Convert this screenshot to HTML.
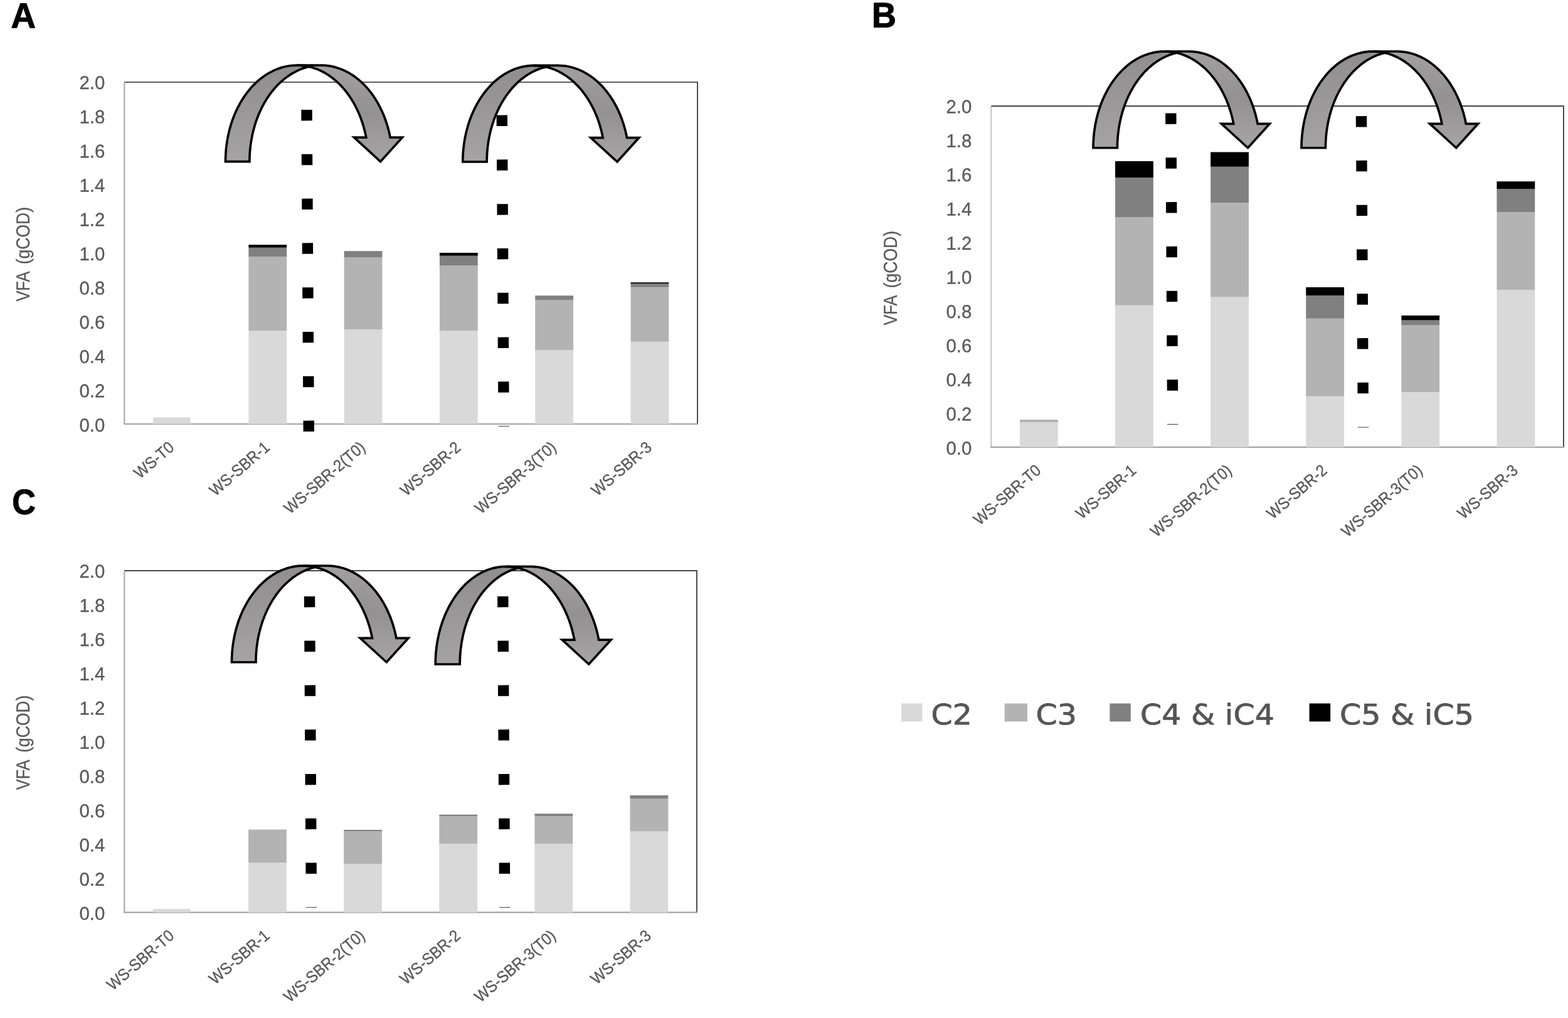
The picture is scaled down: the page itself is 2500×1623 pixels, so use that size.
<!DOCTYPE html>
<html lang="en">
<head>
<meta charset="utf-8">
<title>VFA (gCOD)</title>
<style>
html,body{margin:0;padding:0;background:#fff;}
body{width:2500px;height:1623px;overflow:hidden;}
svg{display:block;}
text{font-family:"Liberation Sans",sans-serif;}
.tk{font-size:29.7px;fill:#595959;stroke:#595959;stroke-width:0.3px;}
.yt{font-size:30.2px;fill:#595959;stroke:#595959;stroke-width:0.3px;}
.xl{font-size:26px;fill:#595959;stroke:#595959;stroke-width:0.35px;}
.pl{font-size:56.5px;font-weight:bold;fill:#000;stroke:#000;stroke-width:1px;stroke-linejoin:miter;}
.lg{font-family:"DejaVu Sans","Liberation Sans",sans-serif;font-size:45.2px;fill:#555;stroke:#555;stroke-width:0.8px;stroke-linejoin:round;}
</style>
</head>
<body>
<svg width="2500" height="1623" viewBox="0 0 2500 1623">
<defs>
<linearGradient id="a1b" gradientUnits="userSpaceOnUse" x1="0" y1="104.1" x2="0" y2="257.6"><stop offset="0" stop-color="#8f8d8e"/><stop offset="1" stop-color="#a5a3a4"/></linearGradient><linearGradient id="a1f" gradientUnits="userSpaceOnUse" x1="0" y1="104.1" x2="0" y2="257.6"><stop offset="0" stop-color="#a19fa0"/><stop offset="0.5" stop-color="#939192"/><stop offset="1" stop-color="#a7a5a6"/></linearGradient>
<linearGradient id="a2b" gradientUnits="userSpaceOnUse" x1="0" y1="104.45" x2="0" y2="258"><stop offset="0" stop-color="#8f8d8e"/><stop offset="1" stop-color="#a5a3a4"/></linearGradient><linearGradient id="a2f" gradientUnits="userSpaceOnUse" x1="0" y1="104.45" x2="0" y2="258"><stop offset="0" stop-color="#a19fa0"/><stop offset="0.5" stop-color="#939192"/><stop offset="1" stop-color="#a7a5a6"/></linearGradient>
<linearGradient id="b1b" gradientUnits="userSpaceOnUse" x1="0" y1="82" x2="0" y2="235.75"><stop offset="0" stop-color="#8f8d8e"/><stop offset="1" stop-color="#a5a3a4"/></linearGradient><linearGradient id="b1f" gradientUnits="userSpaceOnUse" x1="0" y1="82" x2="0" y2="235.75"><stop offset="0" stop-color="#a19fa0"/><stop offset="0.5" stop-color="#939192"/><stop offset="1" stop-color="#a7a5a6"/></linearGradient>
<linearGradient id="b2b" gradientUnits="userSpaceOnUse" x1="0" y1="82" x2="0" y2="235.75"><stop offset="0" stop-color="#8f8d8e"/><stop offset="1" stop-color="#a5a3a4"/></linearGradient><linearGradient id="b2f" gradientUnits="userSpaceOnUse" x1="0" y1="82" x2="0" y2="235.75"><stop offset="0" stop-color="#a19fa0"/><stop offset="0.5" stop-color="#939192"/><stop offset="1" stop-color="#a7a5a6"/></linearGradient>
<linearGradient id="c1b" gradientUnits="userSpaceOnUse" x1="0" y1="902" x2="0" y2="1055.75"><stop offset="0" stop-color="#8f8d8e"/><stop offset="1" stop-color="#a5a3a4"/></linearGradient><linearGradient id="c1f" gradientUnits="userSpaceOnUse" x1="0" y1="902" x2="0" y2="1055.75"><stop offset="0" stop-color="#a19fa0"/><stop offset="0.5" stop-color="#939192"/><stop offset="1" stop-color="#a7a5a6"/></linearGradient>
<linearGradient id="c2b" gradientUnits="userSpaceOnUse" x1="0" y1="903.25" x2="0" y2="1059"><stop offset="0" stop-color="#8f8d8e"/><stop offset="1" stop-color="#a5a3a4"/></linearGradient><linearGradient id="c2f" gradientUnits="userSpaceOnUse" x1="0" y1="903.25" x2="0" y2="1059"><stop offset="0" stop-color="#a19fa0"/><stop offset="0.5" stop-color="#939192"/><stop offset="1" stop-color="#a7a5a6"/></linearGradient>
</defs>
<rect x="0" y="0" width="2500" height="1623" fill="#fff"/>
<path d="M198.3 131 H1112.1 V676" fill="none" stroke="#2e2e2e" stroke-width="1.7"/>
<path d="M198.3 131.9 V677.1" fill="none" stroke="#adadad" stroke-width="2.2"/>
<path d="M197.2 676 H1113" fill="none" stroke="#a3a3a3" stroke-width="2.2"/>
<rect x="244.05" y="665.5" width="59.6" height="10.5" fill="#d9d9d9"/>
<rect x="396.35" y="527.25" width="60.8" height="148.75" fill="#d9d9d9"/>
<rect x="396.35" y="409" width="60.8" height="118.25" fill="#b3b3b3"/>
<rect x="396.35" y="394.75" width="60.8" height="14.25" fill="#808080"/>
<rect x="396.35" y="390.25" width="60.8" height="4.5" fill="#000000"/>
<rect x="548.65" y="525.25" width="60.8" height="150.75" fill="#d9d9d9"/>
<rect x="548.65" y="410.5" width="60.8" height="114.75" fill="#b3b3b3"/>
<rect x="548.65" y="400.25" width="60.8" height="10.25" fill="#808080"/>
<rect x="700.95" y="527.25" width="60.8" height="148.75" fill="#d9d9d9"/>
<rect x="700.95" y="423.5" width="60.8" height="103.75" fill="#b3b3b3"/>
<rect x="700.95" y="407.75" width="60.8" height="15.75" fill="#808080"/>
<rect x="700.95" y="403" width="60.8" height="4.75" fill="#000000"/>
<rect x="853.25" y="558" width="60.8" height="118" fill="#d9d9d9"/>
<rect x="853.25" y="478.5" width="60.8" height="79.5" fill="#b3b3b3"/>
<rect x="853.25" y="471.25" width="60.8" height="7.25" fill="#808080"/>
<rect x="1005.55" y="544.75" width="60.8" height="131.25" fill="#d9d9d9"/>
<rect x="1005.55" y="457.75" width="60.8" height="87" fill="#b3b3b3"/>
<rect x="1005.55" y="452" width="60.8" height="5.75" fill="#808080"/>
<rect x="1005.55" y="450.25" width="60.8" height="1.75" fill="#000000"/>
<text transform="translate(167.35 687.9) rotate(0.03) scale(0.99 1)" text-anchor="end" class="tk">0.0</text>
<text transform="translate(167.35 633.31) rotate(0.03) scale(0.99 1)" text-anchor="end" class="tk">0.2</text>
<text transform="translate(167.35 578.72) rotate(0.03) scale(0.99 1)" text-anchor="end" class="tk">0.4</text>
<text transform="translate(167.35 524.13) rotate(0.03) scale(0.99 1)" text-anchor="end" class="tk">0.6</text>
<text transform="translate(167.35 469.54) rotate(0.03) scale(0.99 1)" text-anchor="end" class="tk">0.8</text>
<text transform="translate(167.35 414.95) rotate(0.03) scale(0.99 1)" text-anchor="end" class="tk">1.0</text>
<text transform="translate(167.35 360.36) rotate(0.03) scale(0.99 1)" text-anchor="end" class="tk">1.2</text>
<text transform="translate(167.35 305.77) rotate(0.03) scale(0.99 1)" text-anchor="end" class="tk">1.4</text>
<text transform="translate(167.35 251.18) rotate(0.03) scale(0.99 1)" text-anchor="end" class="tk">1.6</text>
<text transform="translate(167.35 196.59) rotate(0.03) scale(0.99 1)" text-anchor="end" class="tk">1.8</text>
<text transform="translate(167.35 142) rotate(0.03) scale(0.99 1)" text-anchor="end" class="tk">2.0</text>
<text transform="translate(47.2 480.6) rotate(-90.03)" class="yt"><tspan x="0" textLength="46.6" lengthAdjust="spacingAndGlyphs">VFA</tspan> <tspan x="59.4" textLength="91.3" lengthAdjust="spacingAndGlyphs">(gCOD)</tspan></text>
<text transform="translate(279.45 715.75) rotate(-40.7) scale(0.92 1)" text-anchor="end" class="xl">WS-T0</text>
<text transform="translate(431.75 715.75) rotate(-40.7) scale(0.92 1)" text-anchor="end" class="xl">WS-SBR-1</text>
<text transform="translate(584.05 715.75) rotate(-40.7) scale(0.92 1)" text-anchor="end" class="xl">WS-SBR-2(T0)</text>
<text transform="translate(736.35 715.75) rotate(-40.7) scale(0.92 1)" text-anchor="end" class="xl">WS-SBR-2</text>
<text transform="translate(888.65 715.75) rotate(-40.7) scale(0.92 1)" text-anchor="end" class="xl">WS-SBR-3(T0)</text>
<text transform="translate(1040.95 715.75) rotate(-40.7) scale(0.92 1)" text-anchor="end" class="xl">WS-SBR-3</text>
<path d="M1580.3 169.2 H2492.9 V712.9" fill="none" stroke="#2e2e2e" stroke-width="1.7"/>
<path d="M1580.3 170.1 V714" fill="none" stroke="#c6c6c6" stroke-width="2.2"/>
<path d="M1579.2 712.9 H2493.8" fill="none" stroke="#a3a3a3" stroke-width="2.2"/>
<rect x="1625.95" y="673" width="60.8" height="39.9" fill="#d9d9d9"/>
<rect x="1625.95" y="669" width="60.8" height="4" fill="#b3b3b3"/>
<rect x="1778.05" y="486.75" width="60.8" height="226.15" fill="#d9d9d9"/>
<rect x="1778.05" y="346.25" width="60.8" height="140.5" fill="#b3b3b3"/>
<rect x="1778.05" y="283.25" width="60.8" height="63" fill="#808080"/>
<rect x="1778.05" y="257" width="60.8" height="26.25" fill="#000000"/>
<rect x="1930.15" y="473.5" width="60.8" height="239.4" fill="#d9d9d9"/>
<rect x="1930.15" y="323.25" width="60.8" height="150.25" fill="#b3b3b3"/>
<rect x="1930.15" y="265.75" width="60.8" height="57.5" fill="#808080"/>
<rect x="1930.15" y="242.5" width="60.8" height="23.25" fill="#000000"/>
<rect x="2082.25" y="631.75" width="60.8" height="81.15" fill="#d9d9d9"/>
<rect x="2082.25" y="507.75" width="60.8" height="124" fill="#b3b3b3"/>
<rect x="2082.25" y="471" width="60.8" height="36.75" fill="#808080"/>
<rect x="2082.25" y="458" width="60.8" height="13" fill="#000000"/>
<rect x="2234.35" y="625.25" width="60.8" height="87.65" fill="#d9d9d9"/>
<rect x="2234.35" y="518.5" width="60.8" height="106.75" fill="#b3b3b3"/>
<rect x="2234.35" y="510.5" width="60.8" height="8" fill="#808080"/>
<rect x="2234.35" y="503" width="60.8" height="7.5" fill="#000000"/>
<rect x="2386.45" y="462.25" width="60.8" height="250.65" fill="#d9d9d9"/>
<rect x="2386.45" y="338" width="60.8" height="124.25" fill="#b3b3b3"/>
<rect x="2386.45" y="301.25" width="60.8" height="36.75" fill="#808080"/>
<rect x="2386.45" y="289.25" width="60.8" height="12" fill="#000000"/>
<text transform="translate(1549.35 724.8) rotate(0.03) scale(0.99 1)" text-anchor="end" class="tk">0.0</text>
<text transform="translate(1549.35 670.34) rotate(0.03) scale(0.99 1)" text-anchor="end" class="tk">0.2</text>
<text transform="translate(1549.35 615.88) rotate(0.03) scale(0.99 1)" text-anchor="end" class="tk">0.4</text>
<text transform="translate(1549.35 561.42) rotate(0.03) scale(0.99 1)" text-anchor="end" class="tk">0.6</text>
<text transform="translate(1549.35 506.96) rotate(0.03) scale(0.99 1)" text-anchor="end" class="tk">0.8</text>
<text transform="translate(1549.35 452.5) rotate(0.03) scale(0.99 1)" text-anchor="end" class="tk">1.0</text>
<text transform="translate(1549.35 398.04) rotate(0.03) scale(0.99 1)" text-anchor="end" class="tk">1.2</text>
<text transform="translate(1549.35 343.58) rotate(0.03) scale(0.99 1)" text-anchor="end" class="tk">1.4</text>
<text transform="translate(1549.35 289.12) rotate(0.03) scale(0.99 1)" text-anchor="end" class="tk">1.6</text>
<text transform="translate(1549.35 234.66) rotate(0.03) scale(0.99 1)" text-anchor="end" class="tk">1.8</text>
<text transform="translate(1549.35 180.2) rotate(0.03) scale(0.99 1)" text-anchor="end" class="tk">2.0</text>
<text transform="translate(1430.2 518.6) rotate(-90.03)" class="yt"><tspan x="0" textLength="46.6" lengthAdjust="spacingAndGlyphs">VFA</tspan> <tspan x="59.4" textLength="91.3" lengthAdjust="spacingAndGlyphs">(gCOD)</tspan></text>
<text transform="translate(1661.35 752.65) rotate(-40.7) scale(0.92 1)" text-anchor="end" class="xl">WS-SBR-T0</text>
<text transform="translate(1813.45 752.65) rotate(-40.7) scale(0.92 1)" text-anchor="end" class="xl">WS-SBR-1</text>
<text transform="translate(1965.55 752.65) rotate(-40.7) scale(0.92 1)" text-anchor="end" class="xl">WS-SBR-2(T0)</text>
<text transform="translate(2117.65 752.65) rotate(-40.7) scale(0.92 1)" text-anchor="end" class="xl">WS-SBR-2</text>
<text transform="translate(2269.75 752.65) rotate(-40.7) scale(0.92 1)" text-anchor="end" class="xl">WS-SBR-3(T0)</text>
<text transform="translate(2421.85 752.65) rotate(-40.7) scale(0.92 1)" text-anchor="end" class="xl">WS-SBR-3</text>
<path d="M198.3 909.9 H1111 V1454.7" fill="none" stroke="#2e2e2e" stroke-width="1.7"/>
<path d="M198.3 910.8 V1455.8" fill="none" stroke="#adadad" stroke-width="2.2"/>
<path d="M197.2 1454.7 H1111.9" fill="none" stroke="#a3a3a3" stroke-width="2.2"/>
<rect x="243.96" y="1449.25" width="59.6" height="5.45" fill="#d9d9d9"/>
<rect x="396.08" y="1375.5" width="60.8" height="79.2" fill="#d9d9d9"/>
<rect x="396.08" y="1322.5" width="60.8" height="53" fill="#b3b3b3"/>
<rect x="548.19" y="1377.5" width="60.8" height="77.2" fill="#d9d9d9"/>
<rect x="548.19" y="1325" width="60.8" height="52.5" fill="#b3b3b3"/>
<rect x="548.19" y="1323" width="60.8" height="2" fill="#808080"/>
<rect x="700.31" y="1345" width="60.8" height="109.7" fill="#d9d9d9"/>
<rect x="700.31" y="1301.25" width="60.8" height="43.75" fill="#b3b3b3"/>
<rect x="700.31" y="1298.75" width="60.8" height="2.5" fill="#808080"/>
<rect x="852.43" y="1345" width="60.8" height="109.7" fill="#d9d9d9"/>
<rect x="852.43" y="1301.25" width="60.8" height="43.75" fill="#b3b3b3"/>
<rect x="852.43" y="1297.25" width="60.8" height="4" fill="#808080"/>
<rect x="1004.54" y="1325.5" width="60.8" height="129.2" fill="#d9d9d9"/>
<rect x="1004.54" y="1273.5" width="60.8" height="52" fill="#b3b3b3"/>
<rect x="1004.54" y="1268" width="60.8" height="5.5" fill="#808080"/>
<text transform="translate(167.35 1466.6) rotate(0.03) scale(0.99 1)" text-anchor="end" class="tk">0.0</text>
<text transform="translate(167.35 1412.03) rotate(0.03) scale(0.99 1)" text-anchor="end" class="tk">0.2</text>
<text transform="translate(167.35 1357.46) rotate(0.03) scale(0.99 1)" text-anchor="end" class="tk">0.4</text>
<text transform="translate(167.35 1302.89) rotate(0.03) scale(0.99 1)" text-anchor="end" class="tk">0.6</text>
<text transform="translate(167.35 1248.32) rotate(0.03) scale(0.99 1)" text-anchor="end" class="tk">0.8</text>
<text transform="translate(167.35 1193.75) rotate(0.03) scale(0.99 1)" text-anchor="end" class="tk">1.0</text>
<text transform="translate(167.35 1139.18) rotate(0.03) scale(0.99 1)" text-anchor="end" class="tk">1.2</text>
<text transform="translate(167.35 1084.61) rotate(0.03) scale(0.99 1)" text-anchor="end" class="tk">1.4</text>
<text transform="translate(167.35 1030.04) rotate(0.03) scale(0.99 1)" text-anchor="end" class="tk">1.6</text>
<text transform="translate(167.35 975.47) rotate(0.03) scale(0.99 1)" text-anchor="end" class="tk">1.8</text>
<text transform="translate(167.35 920.9) rotate(0.03) scale(0.99 1)" text-anchor="end" class="tk">2.0</text>
<text transform="translate(47.2 1259.2) rotate(-90.03)" class="yt"><tspan x="0" textLength="46.6" lengthAdjust="spacingAndGlyphs">VFA</tspan> <tspan x="59.4" textLength="91.3" lengthAdjust="spacingAndGlyphs">(gCOD)</tspan></text>
<text transform="translate(279.36 1494.45) rotate(-40.7) scale(0.92 1)" text-anchor="end" class="xl">WS-SBR-T0</text>
<text transform="translate(431.48 1494.45) rotate(-40.7) scale(0.92 1)" text-anchor="end" class="xl">WS-SBR-1</text>
<text transform="translate(583.59 1494.45) rotate(-40.7) scale(0.92 1)" text-anchor="end" class="xl">WS-SBR-2(T0)</text>
<text transform="translate(735.71 1494.45) rotate(-40.7) scale(0.92 1)" text-anchor="end" class="xl">WS-SBR-2</text>
<text transform="translate(887.83 1494.45) rotate(-40.7) scale(0.92 1)" text-anchor="end" class="xl">WS-SBR-3(T0)</text>
<text transform="translate(1039.94 1494.45) rotate(-40.7) scale(0.92 1)" text-anchor="end" class="xl">WS-SBR-3</text>
<line x1="489" y1="175" x2="492.3" y2="688" stroke="#000" stroke-width="17.4" stroke-dasharray="17.4 53.4"/>
<line x1="800.3" y1="183.6" x2="803.2" y2="679.95" stroke="#000" stroke-width="17.4" stroke-dasharray="17.4 53.4"/>
<line x1="1866.8" y1="180.5" x2="1869.8" y2="676.85" stroke="#000" stroke-width="17.4" stroke-dasharray="17.4 53.4"/>
<line x1="2170.5" y1="185.1" x2="2173.5" y2="681.45" stroke="#000" stroke-width="17.4" stroke-dasharray="17.4 53.4"/>
<line x1="493.5" y1="950.75" x2="496.5" y2="1447.1" stroke="#000" stroke-width="17.4" stroke-dasharray="17.4 53.4"/>
<line x1="801.8" y1="950.75" x2="804.8" y2="1447.1" stroke="#000" stroke-width="17.4" stroke-dasharray="17.4 53.4"/>
<g stroke="#000" stroke-width="3.7" stroke-linejoin="miter" stroke-miterlimit="8"><path d="M359.5 257.6 L359.5 257.6 L359.61 250.93 L359.93 244.26 L360.47 237.63 L361.22 231.03 L362.18 224.48 L363.36 217.99 L364.74 211.58 L366.33 205.25 L368.12 199.03 L370.11 192.91 L372.3 186.92 L374.68 181.06 L377.24 175.35 L379.99 169.79 L382.91 164.4 L386.01 159.18 L389.27 154.16 L392.69 149.32 L396.26 144.69 L399.98 140.28 L403.83 136.08 L407.82 132.12 L411.94 128.39 L416.17 124.91 L420.5 121.68 L424.94 118.71 L429.47 116 L434.09 113.56 L438.77 111.39 L443.53 109.49 L448.34 107.88 L453.2 106.55 L458.09 105.5 L463.02 104.75 L467.96 104.28 L472.92 104.1 L477.87 104.21 L482.82 104.62 L487.75 105.31 L492.66 106.29 L492.66 106.29 L488.73 107.29 L484.84 108.47 L480.97 109.84 L477.15 111.39 L473.37 113.11 L469.63 115.02 L465.95 117.1 L462.32 119.35 L458.76 121.77 L455.26 124.36 L451.83 127.11 L448.47 130.02 L445.19 133.09 L441.99 136.31 L438.88 139.68 L435.86 143.2 L432.93 146.85 L430.1 150.64 L427.36 154.57 L424.74 158.62 L422.21 162.79 L419.8 167.08 L417.51 171.47 L415.32 175.98 L413.26 180.58 L411.32 185.28 L409.5 190.07 L407.8 194.94 L406.24 199.89 L404.8 204.91 L403.5 209.99 L402.32 215.13 L401.29 220.33 L400.38 225.56 L399.62 230.84 L398.99 236.16 L398.5 241.49 L398.15 246.85 L397.94 252.22 L397.88 257.6 Z" fill="url(#a1b)"/><path d="M473.47 104.1 L477.22 104.18 L480.97 104.43 L484.72 104.85 L488.45 105.43 L492.16 106.18 L495.86 107.09 L499.53 108.17 L503.17 109.4 L506.78 110.8 L510.35 112.36 L513.88 114.07 L517.37 115.95 L520.81 117.97 L524.2 120.15 L527.54 122.47 L530.81 124.95 L534.03 127.56 L537.17 130.32 L540.25 133.22 L543.26 136.25 L546.19 139.41 L549.04 142.7 L551.81 146.12 L554.5 149.65 L557.09 153.31 L559.6 157.08 L562.01 160.95 L564.33 164.93 L566.54 169.02 L568.66 173.19 L570.67 177.46 L572.58 181.82 L574.38 186.26 L576.07 190.78 L577.65 195.37 L579.12 200.02 L580.47 204.74 L581.7 209.52 L582.82 214.35 L583.82 219.22 L564.63 219.22 L606.62 257.6 L641.38 219.22 L622.19 219.22 L621.19 214.35 L620.08 209.52 L618.84 204.74 L617.49 200.02 L616.03 195.37 L614.45 190.78 L612.76 186.26 L610.96 181.82 L609.05 177.46 L607.04 173.19 L604.92 169.02 L602.7 164.93 L600.39 160.95 L597.97 157.08 L595.47 153.31 L592.87 149.65 L590.19 146.12 L587.42 142.7 L584.57 139.41 L581.64 136.25 L578.63 133.22 L575.55 130.32 L572.4 127.56 L569.19 124.95 L565.91 122.47 L562.58 120.15 L559.19 117.97 L555.75 115.95 L552.26 114.07 L548.72 112.36 L545.15 110.8 L541.54 109.4 L537.9 108.17 L534.23 107.09 L530.54 106.18 L526.82 105.43 L523.09 104.85 L519.35 104.43 L515.6 104.18 L511.84 104.1 Z" fill="url(#a1f)"/></g>
<g stroke="#000" stroke-width="3.7" stroke-linejoin="miter" stroke-miterlimit="8"><path d="M737.8 258 L737.8 258 L737.91 251.32 L738.23 244.65 L738.77 238.01 L739.52 231.41 L740.48 224.85 L741.65 218.36 L743.03 211.95 L744.61 205.62 L746.4 199.39 L748.38 193.27 L750.56 187.27 L752.93 181.41 L755.49 175.69 L758.22 170.13 L761.14 164.74 L764.22 159.52 L767.47 154.49 L770.88 149.65 L774.44 145.02 L778.15 140.6 L781.99 136.41 L785.97 132.44 L790.07 128.72 L794.28 125.24 L798.61 122 L803.03 119.03 L807.54 116.32 L812.14 113.88 L816.81 111.71 L821.55 109.82 L826.34 108.21 L831.19 106.88 L836.06 105.84 L840.97 105.09 L845.9 104.62 L850.84 104.45 L855.78 104.57 L860.71 104.98 L865.62 105.67 L870.5 106.66 L870.5 106.66 L866.6 107.66 L862.72 108.85 L858.88 110.22 L855.07 111.77 L851.31 113.5 L847.59 115.41 L843.92 117.49 L840.32 119.74 L836.77 122.17 L833.28 124.76 L829.87 127.51 L826.53 130.42 L823.26 133.49 L820.08 136.72 L816.99 140.09 L813.98 143.61 L811.06 147.26 L808.25 151.05 L805.53 154.98 L802.91 159.03 L800.4 163.2 L798 167.49 L795.72 171.89 L793.55 176.39 L791.49 180.99 L789.56 185.69 L787.75 190.48 L786.07 195.35 L784.51 200.3 L783.08 205.32 L781.78 210.4 L780.61 215.54 L779.58 220.73 L778.68 225.97 L777.92 231.25 L777.3 236.56 L776.81 241.9 L776.47 247.25 L776.26 252.62 L776.19 258 Z" fill="url(#a2b)"/><path d="M851.31 104.45 L855.05 104.53 L858.78 104.78 L862.51 105.2 L866.23 105.78 L869.93 106.53 L873.61 107.44 L877.26 108.52 L880.89 109.75 L884.48 111.15 L888.04 112.71 L891.56 114.43 L895.03 116.3 L898.46 118.33 L901.84 120.5 L905.16 122.83 L908.42 125.3 L911.62 127.92 L914.76 130.68 L917.83 133.58 L920.82 136.61 L923.74 139.77 L926.58 143.06 L929.34 146.48 L932.01 150.02 L934.6 153.67 L937.09 157.44 L939.49 161.32 L941.8 165.3 L944.01 169.39 L946.12 173.57 L948.12 177.84 L950.02 182.2 L951.82 186.64 L953.5 191.16 L955.07 195.75 L956.53 200.41 L957.88 205.13 L959.11 209.9 L960.22 214.73 L961.21 219.61 L942.02 219.61 L984.01 258 L1018.8 219.61 L999.6 219.61 L998.61 214.73 L997.49 209.9 L996.26 205.13 L994.92 200.41 L993.46 195.75 L991.89 191.16 L990.2 186.64 L988.41 182.2 L986.51 177.84 L984.51 173.57 L982.4 169.39 L980.19 165.3 L977.88 161.32 L975.48 157.44 L972.98 153.67 L970.4 150.02 L967.72 146.48 L964.97 143.06 L962.13 139.77 L959.21 136.61 L956.21 133.58 L953.15 130.68 L950.01 127.92 L946.81 125.3 L943.55 122.83 L940.23 120.5 L936.85 118.33 L933.42 116.3 L929.95 114.43 L926.43 112.71 L922.87 111.15 L919.28 109.75 L915.65 108.52 L911.99 107.44 L908.31 106.53 L904.62 105.78 L900.9 105.2 L897.17 104.78 L893.44 104.53 L889.7 104.45 Z" fill="url(#a2f)"/></g>
<g stroke="#000" stroke-width="3.7" stroke-linejoin="miter" stroke-miterlimit="8"><path d="M1743 235.75 L1743 235.75 L1743.11 229.06 L1743.43 222.39 L1743.97 215.73 L1744.72 209.12 L1745.68 202.56 L1746.85 196.06 L1748.23 189.64 L1749.82 183.3 L1751.61 177.06 L1753.59 170.93 L1755.78 164.93 L1758.15 159.06 L1760.71 153.34 L1763.45 147.77 L1766.37 142.37 L1769.46 137.14 L1772.71 132.1 L1776.13 127.26 L1779.69 122.62 L1783.4 118.2 L1787.25 114 L1791.23 110.03 L1795.34 106.3 L1799.56 102.81 L1803.89 99.58 L1808.32 96.6 L1812.84 93.89 L1817.45 91.44 L1822.13 89.27 L1826.87 87.38 L1831.67 85.77 L1836.52 84.44 L1841.4 83.39 L1846.32 82.64 L1851.25 82.17 L1856.2 82 L1861.14 82.12 L1866.08 82.53 L1871 83.23 L1875.89 84.21 L1875.89 84.21 L1871.98 85.22 L1868.1 86.4 L1864.25 87.78 L1860.44 89.33 L1856.67 91.06 L1852.94 92.97 L1849.27 95.05 L1845.66 97.31 L1842.11 99.74 L1838.62 102.33 L1835.2 105.09 L1831.85 108.01 L1828.58 111.08 L1825.4 114.31 L1822.3 117.68 L1819.28 121.21 L1816.36 124.87 L1813.54 128.66 L1810.82 132.59 L1808.2 136.65 L1805.69 140.82 L1803.29 145.12 L1801 149.52 L1798.82 154.03 L1796.77 158.64 L1794.83 163.35 L1793.02 168.14 L1791.33 173.02 L1789.77 177.97 L1788.34 183 L1787.04 188.09 L1785.87 193.23 L1784.84 198.43 L1783.94 203.68 L1783.18 208.96 L1782.55 214.28 L1782.06 219.63 L1781.72 224.99 L1781.51 230.37 L1781.44 235.75 Z" fill="url(#b1b)"/><path d="M1856.67 82 L1860.42 82.08 L1864.16 82.33 L1867.89 82.75 L1871.61 83.33 L1875.32 84.08 L1879 85 L1882.66 86.07 L1886.29 87.31 L1889.89 88.71 L1893.46 90.27 L1896.98 91.99 L1900.46 93.87 L1903.89 95.89 L1907.27 98.07 L1910.6 100.4 L1913.87 102.88 L1917.07 105.5 L1920.21 108.26 L1923.28 111.16 L1926.28 114.2 L1929.2 117.37 L1932.05 120.66 L1934.81 124.09 L1937.49 127.63 L1940.08 131.29 L1942.58 135.06 L1944.98 138.95 L1947.29 142.93 L1949.51 147.02 L1951.62 151.21 L1953.62 155.48 L1955.53 159.85 L1957.32 164.29 L1959.01 168.82 L1960.58 173.42 L1962.04 178.08 L1963.39 182.81 L1964.62 187.59 L1965.74 192.43 L1966.73 197.31 L1947.52 197.31 L1989.56 235.75 L2024.39 197.31 L2005.17 197.31 L2004.18 192.43 L2003.06 187.59 L2001.83 182.81 L2000.48 178.08 L1999.02 173.42 L1997.45 168.82 L1995.76 164.29 L1993.96 159.85 L1992.06 155.48 L1990.05 151.21 L1987.94 147.02 L1985.73 142.93 L1983.42 138.95 L1981.02 135.06 L1978.52 131.29 L1975.93 127.63 L1973.25 124.09 L1970.49 120.66 L1967.64 117.37 L1964.72 114.2 L1961.72 111.16 L1958.65 108.26 L1955.51 105.5 L1952.3 102.88 L1949.04 100.4 L1945.71 98.07 L1942.33 95.89 L1938.9 93.87 L1935.42 91.99 L1931.89 90.27 L1928.33 88.71 L1924.73 87.31 L1921.1 86.07 L1917.44 85 L1913.75 84.08 L1910.05 83.33 L1906.33 82.75 L1902.6 82.33 L1898.85 82.08 L1895.11 82 Z" fill="url(#b1f)"/></g>
<g stroke="#000" stroke-width="3.7" stroke-linejoin="miter" stroke-miterlimit="8"><path d="M2075 235.75 L2075 235.75 L2075.11 229.06 L2075.43 222.39 L2075.97 215.74 L2076.72 209.12 L2077.68 202.56 L2078.86 196.06 L2080.24 189.64 L2081.82 183.3 L2083.61 177.07 L2085.6 170.94 L2087.79 164.94 L2090.16 159.07 L2092.72 153.34 L2095.47 147.77 L2098.39 142.37 L2101.48 137.15 L2104.73 132.11 L2108.15 127.27 L2111.72 122.63 L2115.43 118.21 L2119.28 114.01 L2123.27 110.04 L2127.38 106.31 L2131.6 102.82 L2135.94 99.59 L2140.37 96.61 L2144.89 93.89 L2149.5 91.45 L2154.18 89.28 L2158.93 87.38 L2163.73 85.77 L2168.59 84.44 L2173.48 83.4 L2178.39 82.64 L2183.33 82.18 L2188.28 82 L2193.23 82.12 L2198.17 82.53 L2203.09 83.22 L2207.99 84.21 L2207.99 84.21 L2204.08 85.21 L2200.19 86.4 L2196.34 87.77 L2192.52 89.32 L2188.75 91.05 L2185.02 92.96 L2181.35 95.05 L2177.73 97.3 L2174.17 99.73 L2170.68 102.32 L2167.26 105.08 L2163.91 108 L2160.63 111.07 L2157.44 114.3 L2154.34 117.67 L2151.32 121.2 L2148.4 124.86 L2145.58 128.65 L2142.85 132.58 L2140.23 136.64 L2137.72 140.82 L2135.31 145.11 L2133.02 149.51 L2130.84 154.02 L2128.78 158.64 L2126.84 163.34 L2125.03 168.14 L2123.34 173.01 L2121.78 177.97 L2120.35 182.99 L2119.04 188.08 L2117.87 193.23 L2116.84 198.43 L2115.94 203.68 L2115.18 208.96 L2114.55 214.28 L2114.07 219.62 L2113.72 224.99 L2113.51 230.37 L2113.44 235.75 Z" fill="url(#b2b)"/><path d="M2188.77 82 L2192.52 82.08 L2196.26 82.33 L2200 82.75 L2203.72 83.33 L2207.43 84.08 L2211.12 85 L2214.78 86.07 L2218.42 87.31 L2222.02 88.71 L2225.59 90.27 L2229.11 91.99 L2232.6 93.87 L2236.03 95.89 L2239.42 98.07 L2242.75 100.4 L2246.02 102.88 L2249.23 105.5 L2252.37 108.26 L2255.44 111.16 L2258.44 114.2 L2261.37 117.37 L2264.21 120.66 L2266.98 124.09 L2269.66 127.63 L2272.25 131.29 L2274.75 135.06 L2277.16 138.95 L2279.47 142.93 L2281.69 147.02 L2283.8 151.21 L2285.81 155.48 L2287.71 159.85 L2289.51 164.29 L2291.2 168.82 L2292.77 173.42 L2294.24 178.08 L2295.59 182.81 L2296.82 187.59 L2297.93 192.43 L2298.93 197.31 L2279.71 197.31 L2321.76 235.75 L2356.59 197.31 L2337.37 197.31 L2336.37 192.43 L2335.26 187.59 L2334.02 182.81 L2332.67 178.08 L2331.21 173.42 L2329.64 168.82 L2327.95 164.29 L2326.15 159.85 L2324.25 155.48 L2322.24 151.21 L2320.12 147.02 L2317.91 142.93 L2315.6 138.95 L2313.19 135.06 L2310.69 131.29 L2308.1 127.63 L2305.42 124.09 L2302.65 120.66 L2299.81 117.37 L2296.88 114.2 L2293.88 111.16 L2290.81 108.26 L2287.66 105.5 L2284.45 102.88 L2281.18 100.4 L2277.85 98.07 L2274.47 95.89 L2271.04 93.87 L2267.55 91.99 L2264.03 90.27 L2260.46 88.71 L2256.86 87.31 L2253.22 86.07 L2249.56 85 L2245.87 84.08 L2242.16 83.33 L2238.44 82.75 L2234.7 82.33 L2230.96 82.08 L2227.21 82 Z" fill="url(#b2f)"/></g>
<g stroke="#000" stroke-width="3.7" stroke-linejoin="miter" stroke-miterlimit="8"><path d="M369.5 1055.75 L369.5 1055.75 L369.61 1049.06 L369.93 1042.39 L370.47 1035.74 L371.22 1029.12 L372.18 1022.56 L373.36 1016.06 L374.74 1009.64 L376.32 1003.3 L378.11 997.07 L380.1 990.94 L382.29 984.94 L384.66 979.07 L387.22 973.34 L389.97 967.77 L392.89 962.37 L395.98 957.15 L399.23 952.11 L402.65 947.27 L406.22 942.63 L409.93 938.21 L413.78 934.01 L417.77 930.04 L421.88 926.31 L426.1 922.82 L430.44 919.59 L434.87 916.61 L439.39 913.89 L444 911.45 L448.68 909.28 L453.43 907.38 L458.23 905.77 L463.09 904.44 L467.98 903.4 L472.89 902.64 L477.83 902.18 L482.78 902 L487.73 902.12 L492.67 902.53 L497.59 903.22 L502.49 904.21 L502.49 904.21 L498.58 905.21 L494.69 906.4 L490.84 907.77 L487.02 909.32 L483.25 911.05 L479.52 912.96 L475.85 915.05 L472.23 917.3 L468.67 919.73 L465.18 922.32 L461.76 925.08 L458.41 928 L455.13 931.07 L451.94 934.3 L448.84 937.67 L445.82 941.2 L442.9 944.86 L440.08 948.65 L437.35 952.58 L434.73 956.64 L432.22 960.82 L429.81 965.11 L427.52 969.51 L425.34 974.02 L423.28 978.64 L421.34 983.34 L419.53 988.14 L417.84 993.01 L416.28 997.97 L414.85 1002.99 L413.54 1008.08 L412.37 1013.23 L411.34 1018.43 L410.44 1023.68 L409.68 1028.96 L409.05 1034.28 L408.57 1039.62 L408.22 1044.99 L408.01 1050.37 L407.94 1055.75 Z" fill="url(#c1b)"/><path d="M483.27 902 L487.02 902.08 L490.76 902.33 L494.5 902.75 L498.22 903.33 L501.93 904.08 L505.62 905 L509.28 906.07 L512.92 907.31 L516.52 908.71 L520.09 910.27 L523.61 911.99 L527.1 913.87 L530.53 915.89 L533.92 918.07 L537.25 920.4 L540.52 922.88 L543.73 925.5 L546.87 928.26 L549.94 931.16 L552.94 934.2 L555.87 937.37 L558.71 940.66 L561.48 944.09 L564.16 947.63 L566.75 951.29 L569.25 955.06 L571.66 958.95 L573.97 962.93 L576.19 967.02 L578.3 971.21 L580.31 975.48 L582.21 979.85 L584.01 984.29 L585.7 988.82 L587.27 993.42 L588.74 998.08 L590.09 1002.81 L591.32 1007.59 L592.43 1012.43 L593.43 1017.31 L574.21 1017.31 L616.26 1055.75 L651.09 1017.31 L631.87 1017.31 L630.87 1012.43 L629.76 1007.59 L628.52 1002.81 L627.17 998.08 L625.71 993.42 L624.14 988.82 L622.45 984.29 L620.65 979.85 L618.75 975.48 L616.74 971.21 L614.62 967.02 L612.41 962.93 L610.1 958.95 L607.69 955.06 L605.19 951.29 L602.6 947.63 L599.92 944.09 L597.15 940.66 L594.31 937.37 L591.38 934.2 L588.38 931.16 L585.31 928.26 L582.16 925.5 L578.95 922.88 L575.68 920.4 L572.35 918.07 L568.97 915.89 L565.54 913.87 L562.05 911.99 L558.53 910.27 L554.96 908.71 L551.36 907.31 L547.72 906.07 L544.06 905 L540.37 904.08 L536.66 903.33 L532.94 902.75 L529.2 902.33 L525.46 902.08 L521.71 902 Z" fill="url(#c1f)"/></g>
<g stroke="#000" stroke-width="3.7" stroke-linejoin="miter" stroke-miterlimit="8"><path d="M694.25 1059 L694.25 1059 L694.36 1052.21 L694.68 1045.43 L695.21 1038.68 L695.96 1031.96 L696.92 1025.3 L698.08 1018.7 L699.46 1012.18 L701.03 1005.75 L702.81 999.42 L704.79 993.2 L706.96 987.11 L709.32 981.15 L711.86 975.34 L714.59 969.7 L717.49 964.22 L720.56 958.92 L723.8 953.81 L727.19 948.9 L730.73 944.2 L734.42 939.72 L738.25 935.47 L742.21 931.45 L746.29 927.67 L750.48 924.15 L754.79 920.88 L759.19 917.87 L763.68 915.13 L768.25 912.67 L772.9 910.48 L777.61 908.58 L782.38 906.96 L787.19 905.63 L792.04 904.59 L796.92 903.85 L801.82 903.4 L806.73 903.25 L811.64 903.39 L816.53 903.83 L821.41 904.57 L826.27 905.6 L826.27 905.6 L822.41 906.63 L818.58 907.85 L814.78 909.26 L811.02 910.84 L807.3 912.61 L803.63 914.56 L800.01 916.68 L796.45 918.98 L792.95 921.44 L789.51 924.08 L786.14 926.88 L782.84 929.84 L779.62 932.95 L776.48 936.23 L773.43 939.65 L770.46 943.21 L767.58 946.92 L764.8 950.77 L762.12 954.74 L759.54 958.85 L757.07 963.07 L754.7 967.41 L752.45 971.87 L750.31 976.43 L748.28 981.09 L746.37 985.85 L744.59 990.69 L742.93 995.62 L741.39 1000.63 L739.98 1005.71 L738.7 1010.85 L737.55 1016.05 L736.53 1021.3 L735.65 1026.6 L734.9 1031.94 L734.28 1037.31 L733.8 1042.71 L733.46 1048.13 L733.26 1053.56 L733.19 1059 Z" fill="url(#c2b)"/><path d="M806.8 903.25 L810.5 903.33 L814.21 903.59 L817.9 904.01 L821.59 904.6 L825.26 905.36 L828.9 906.28 L832.53 907.38 L836.12 908.63 L839.69 910.05 L843.22 911.63 L846.71 913.37 L850.15 915.27 L853.55 917.32 L856.9 919.53 L860.19 921.89 L863.43 924.4 L866.6 927.06 L869.71 929.85 L872.75 932.79 L875.72 935.87 L878.61 939.08 L881.43 942.42 L884.16 945.88 L886.81 949.47 L889.38 953.18 L891.85 957 L894.23 960.94 L896.52 964.98 L898.71 969.12 L900.8 973.36 L902.79 977.69 L904.67 982.11 L906.45 986.62 L908.12 991.2 L909.68 995.85 L911.13 1000.58 L912.46 1005.37 L913.68 1010.22 L914.78 1015.12 L915.77 1020.06 L896.3 1020.06 L938.81 1059 L974.18 1020.06 L954.71 1020.06 L953.72 1015.12 L952.62 1010.22 L951.4 1005.37 L950.06 1000.58 L948.62 995.85 L947.06 991.2 L945.39 986.62 L943.61 982.11 L941.73 977.69 L939.74 973.36 L937.65 969.12 L935.46 964.98 L933.17 960.94 L930.79 957 L928.32 953.18 L925.75 949.47 L923.1 945.88 L920.37 942.42 L917.55 939.08 L914.65 935.87 L911.69 932.79 L908.65 929.85 L905.54 927.06 L902.36 924.4 L899.13 921.89 L895.83 919.53 L892.49 917.32 L889.09 915.27 L885.64 913.37 L882.15 911.63 L878.63 910.05 L875.06 908.63 L871.47 907.38 L867.84 906.28 L864.19 905.36 L860.53 904.6 L856.84 904.01 L853.15 903.59 L849.44 903.33 L845.73 903.25 Z" fill="url(#c2f)"/></g>
<text transform="translate(17.54 44.35) rotate(0.03) scale(0.968 1)" class="pl">A</text>
<text transform="translate(1390.09 43.4) rotate(0.03) scale(0.955 1)" class="pl">B</text>
<text transform="translate(19.36 819.7) rotate(0.03) scale(0.923 1)" class="pl">C</text>
<rect x="1437.2" y="1121.5" width="33.2" height="28.8" fill="#d9d9d9"/>
<text transform="translate(1484.5 1155) rotate(0.03) scale(1.085 1)" class="lg">C2</text>
<rect x="1601.7" y="1121.5" width="36.2" height="28.8" fill="#b3b3b3"/>
<text transform="translate(1651.5 1155) rotate(0.03) scale(1.085 1)" class="lg">C3</text>
<rect x="1769.4" y="1121.5" width="33.4" height="28.8" fill="#808080"/>
<text transform="translate(1818 1155) rotate(0.03) scale(1.085 1)" class="lg">C4 &amp; iC4</text>
<rect x="2087.6" y="1121.5" width="33.6" height="28.8" fill="#000000"/>
<text transform="translate(2136 1155) rotate(0.03) scale(1.085 1)" class="lg">C5 &amp; iC5</text>
</svg>
</body>
</html>
